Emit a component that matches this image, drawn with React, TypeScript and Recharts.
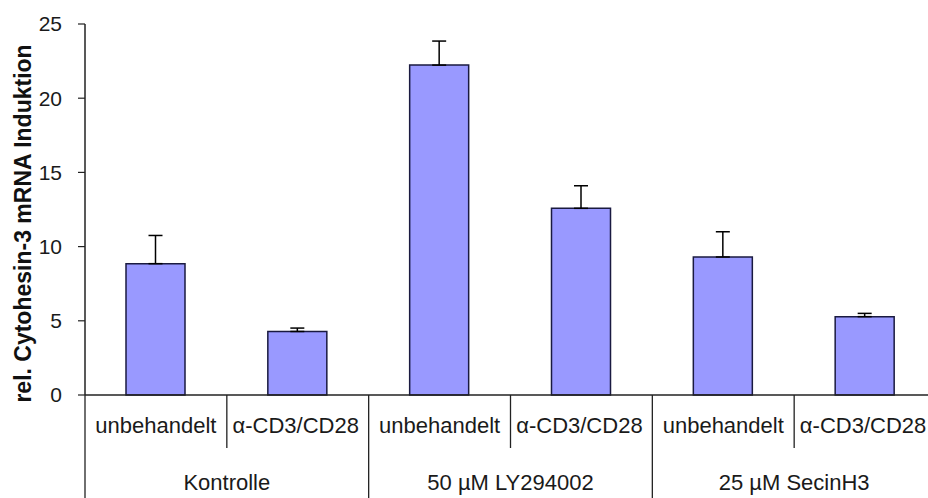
import { BarChart, Bar, XAxis, YAxis, ErrorBar } from "recharts";

const conditions = [
  "unbehandelt",
  "α-CD3/CD28",
  "unbehandelt",
  "α-CD3/CD28",
  "unbehandelt",
  "α-CD3/CD28",
];
const groups = ["Kontrolle", "50 µM LY294002", "25 µM SecinH3"];
const means = [8.85, 4.28, 22.23, 12.58, 9.3, 5.28];
const errors = [1.9, 0.23, 1.62, 1.52, 1.7, 0.22];
const yTicks = [0, 5, 10, 15, 20, 25];

const data = conditions.map((c, i) => ({
  key: `${i}`,
  label: c,
  value: means[i],
  err: [0, errors[i]],
}));

const FONT = "'Liberation Sans', Arial, sans-serif";

const CategoryTick = (props: any) => {
  const { x, y, payload, index } = props;
  const half = payload?.offset ?? 70.9;
  const i = index ?? Number(payload.value);
  const label = conditions[i];
  const left = x - half;
  const isGroupStart = i % 2 === 0;
  return (
    <g>
      <line
        x1={left}
        x2={left}
        y1={y - 8}
        y2={isGroupStart ? 500 : y + 45}
        stroke="#222"
        strokeWidth={1.3}
      />
      {i === conditions.length - 1 && (
        <line x1={x + half} x2={x + half} y1={y - 8} y2={500} stroke="#222" strokeWidth={1.3} />
      )}
      <text
        x={i % 2 === 1 ? x - 2 : x}
        y={y + 30}
        textAnchor="middle"
        fontSize={22}
        fontFamily={FONT}
        fill="#1a1a1a"
      >
        {label}
      </text>
      {isGroupStart && (
        <text
          x={x + half}
          y={y + 87}
          textAnchor="middle"
          fontSize={22}
          fontFamily={FONT}
          fill="#1a1a1a"
        >
          {groups[i / 2]}
        </text>
      )}
    </g>
  );
};

const YLabel = (props: any) => {
  const { viewBox } = props;
  const cy = viewBox.y + viewBox.height / 2 + 14;
  return (
    <text
      x={23}
      y={cy}
      transform={`rotate(-90, 23, ${cy})`}
      textAnchor="middle"
      dominantBaseline="central"
      fontSize={23}
      fontWeight="bold"
      fontFamily={FONT}
      fill="#111"
    >
      rel. Cytohesin-3 mRNA Induktion
    </text>
  );
};

export default function App() {
  return (
    <div
      style={{
        position: "absolute",
        left: 0,
        top: 0,
        width: 928,
        height: 498,
        overflow: "hidden",
        background: "#fff",
      }}
    >
      <BarChart
        width={940}
        height={498}
        data={data}
        margin={{ top: 24, right: 4, left: 0, bottom: 0 }}
        barSize={59}
      >
        <XAxis
          dataKey="key"
          height={103}
          axisLine={{ stroke: "#222", strokeWidth: 1.5 }}
          tickLine={false}
          tick={<CategoryTick />}
          interval={0}
        />
        <YAxis
          width={85}
          domain={[0, 25]}
          ticks={yTicks}
          interval={0}
          tickSize={7}
          tickMargin={16}
          axisLine={{ stroke: "#222", strokeWidth: 1.5 }}
          tickLine={{ stroke: "#222", strokeWidth: 1.2 }}
          tick={{ fontSize: 21, fontFamily: FONT, fill: "#1a1a1a" }}
          label={<YLabel />}
        />
        <Bar
          dataKey="value"
          fill="#9999ff"
          stroke="#1a1a40"
          strokeWidth={1.5}
          isAnimationActive={false}
        >
          <ErrorBar dataKey="err" width={7} stroke="#000" strokeWidth={1.5} direction="y" />
        </Bar>
      </BarChart>
    </div>
  );
}
